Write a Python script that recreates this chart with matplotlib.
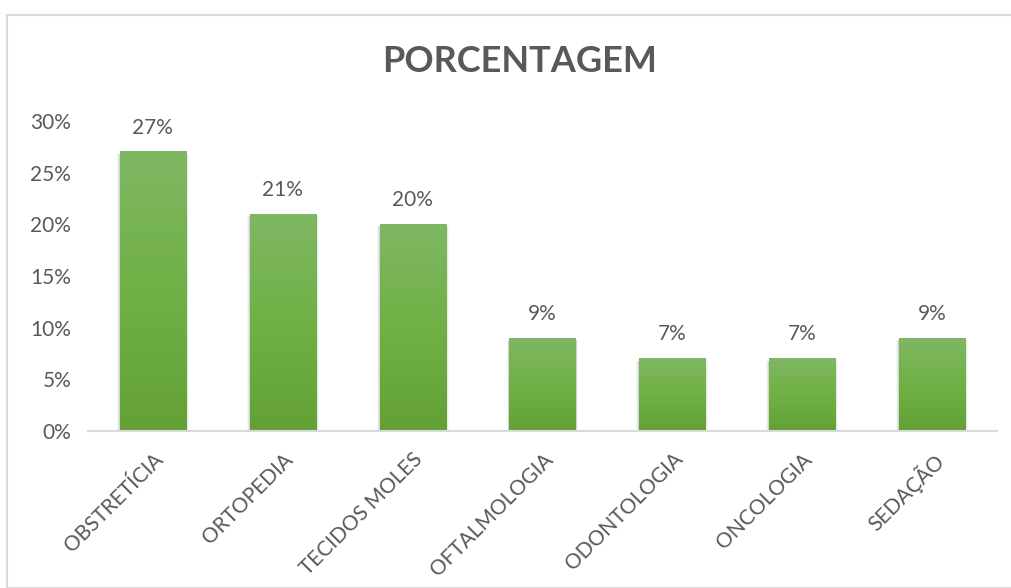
import numpy as np
import matplotlib.pyplot as plt
from matplotlib.colors import LinearSegmentedColormap
from matplotlib.patches import Rectangle

# dados
categorias = ['OBSTRETÍCIA', 'ORTOPEDIA', 'TECIDOS MOLES', 'OFTALMOLOGIA',
              'ODONTOLOGIA', 'ONCOLOGIA', 'SEDAÇÃO']
valores = [0.27, 0.21, 0.20, 0.09, 0.07, 0.07, 0.09]
rotulos = ['27%', '21%', '20%', '9%', '7%', '7%', '9%']
ticks_y = [0, 0.05, 0.10, 0.15, 0.20, 0.25, 0.30]
ticks_y_txt = ['0%', '5%', '10%', '15%', '20%', '25%', '30%']

plt.rcParams['font.family'] = ['Lato', 'DejaVu Sans']
cinza = '#595959'

fig = plt.figure(figsize=(10.12, 5.88), dpi=100)
fig.patches.append(Rectangle((7 / 1012, 0), 1, 1 - 15 / 588, transform=fig.transFigure,
                             fill=False, edgecolor='#d9d9d9', linewidth=1.5))

ax = fig.add_axes([88 / 1012, 1 - 431 / 588, (997 - 88) / 1012, (431 - 121) / 588])

x = np.arange(len(categorias))
largura = 0.51
barras = ax.bar(x, valores, width=largura, color='none', zorder=3)

# gradiente das barras
cmap = LinearSegmentedColormap.from_list('verde', ['#63a135', '#70b044', '#7fb764'])
grad = np.linspace(0, 1, 256).reshape(-1, 1)
for b in barras:
    x0, y0 = b.get_x(), b.get_y()
    w, h = b.get_width(), b.get_height()
    # sombra
    for k, a in enumerate([0.09, 0.06, 0.03]):
        d = 0.012 * (k + 1)
        ax.add_patch(Rectangle((x0 - d * 0.6, y0), w + d * 1.2, h - 0.002,
                               facecolor='black', edgecolor='none', alpha=a, zorder=2))
    ax.imshow(grad, extent=[x0, x0 + w, y0, y0 + h], origin='lower', cmap=cmap,
              aspect='auto', zorder=3)

for xi, v, t in zip(x, valores, rotulos):
    ax.text(xi, v + 0.014, t, ha='center', va='bottom', fontsize=15, color=cinza)

ax.set_xlim(-0.5, len(categorias) - 0.5)
ax.set_ylim(0, 0.30)
ax.set_yticks(ticks_y)
ax.set_yticklabels(ticks_y_txt, fontsize=15, color=cinza)
ax.set_xticks(x)
ax.set_xticklabels(categorias, rotation=45, ha='right', rotation_mode='anchor',
                   fontsize=15, color=cinza)
ax.tick_params(axis='both', length=0)
ax.tick_params(axis='x', pad=13)
ax.tick_params(axis='y', pad=12)

for s in ['top', 'right', 'left']:
    ax.spines[s].set_visible(False)
ax.spines['bottom'].set_color('#d9d9d9')
ax.spines['bottom'].set_linewidth(1.5)
ax.spines['bottom'].set_zorder(4)

fig.text(0.513, 1 - 62 / 588, 'PORCENTAGEM', ha='center', va='center',
         fontsize=26, fontweight='bold', color=cinza)

fig.savefig('out.png', dpi=100)
